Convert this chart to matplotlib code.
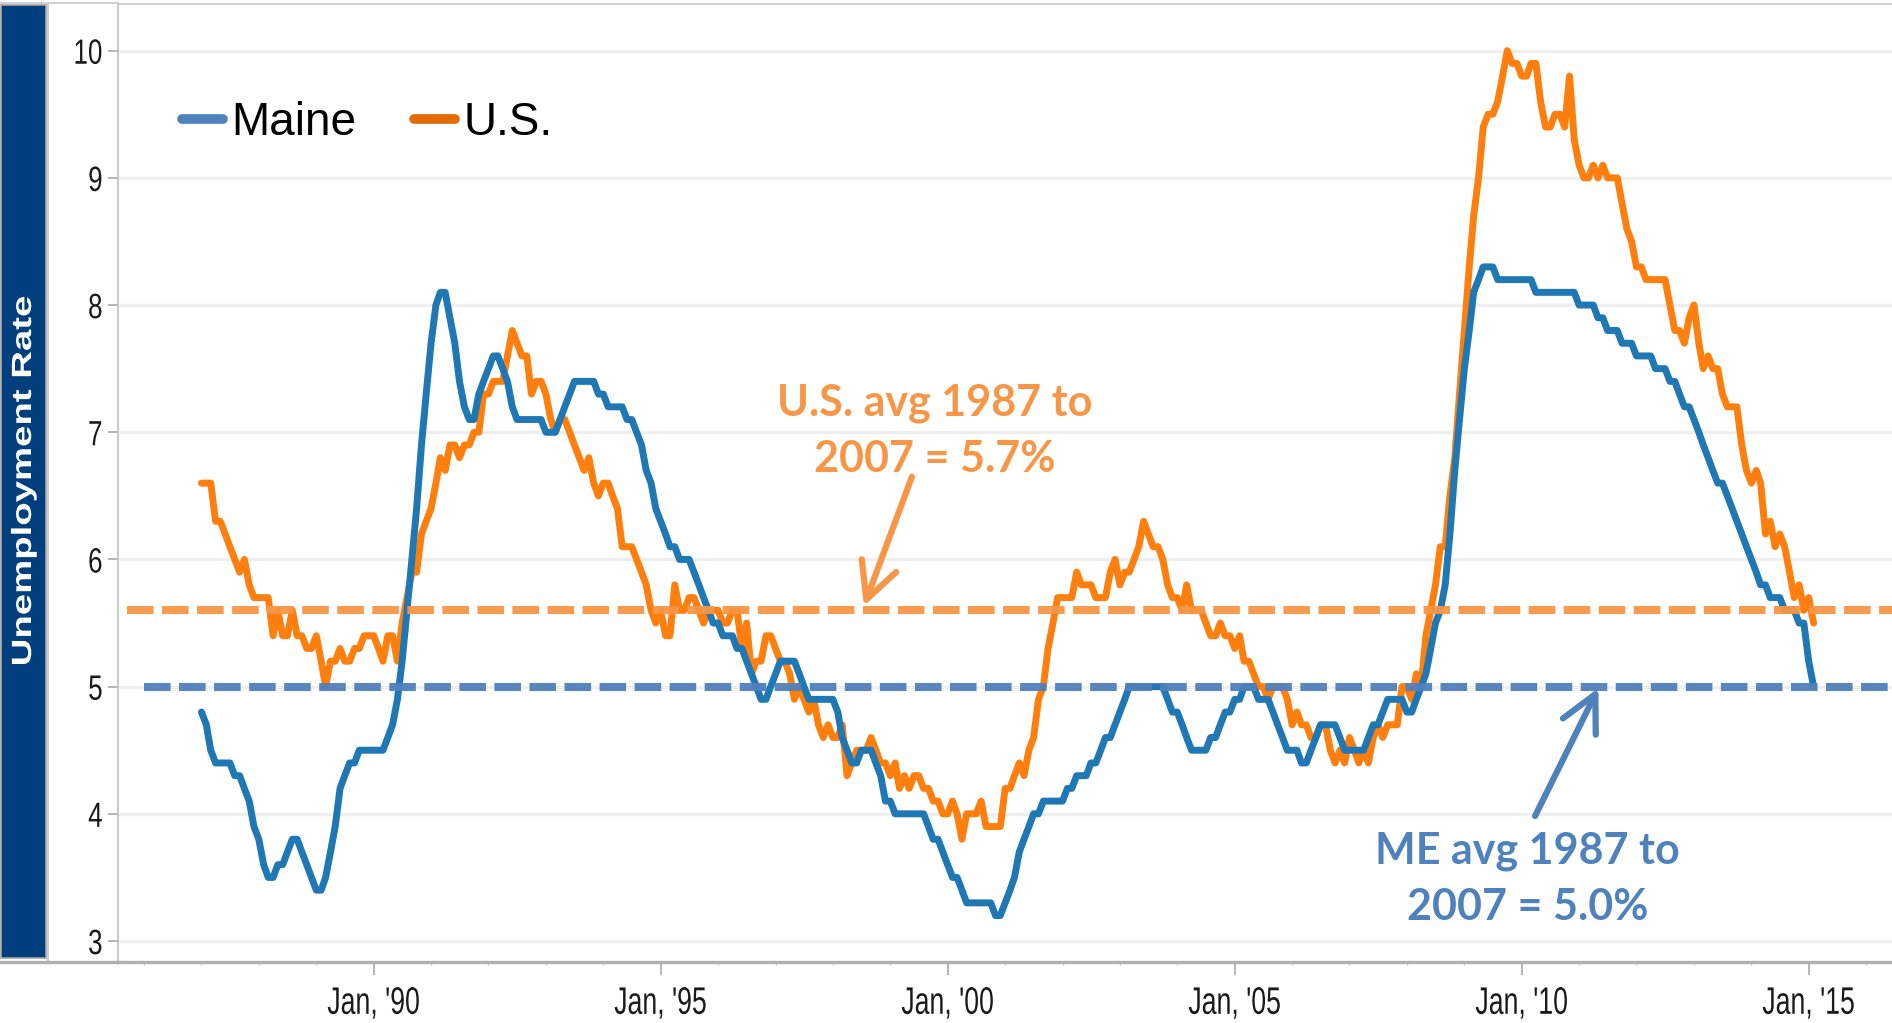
import matplotlib
matplotlib.use('Agg')
import matplotlib.pyplot as plt
import matplotlib.dates as mdates
from matplotlib.lines import Line2D
from matplotlib.patches import Rectangle
from matplotlib.patheffects import AbstractPathEffect
from matplotlib.transforms import Affine2D
import pandas as pd

# ---------------- data (monthly, Jan 1987 - Feb 2015) ----------------
start_month = '1987-01-01'

maine_rate = [
    4.8, 4.7, 4.5, 4.4, 4.4, 4.4, 4.4, 4.3, 4.3, 4.2, 4.1, 3.9,   # 1987
    3.8, 3.6, 3.5, 3.5, 3.6, 3.6, 3.7, 3.8, 3.8, 3.7, 3.6, 3.5,   # 1988
    3.4, 3.4, 3.5, 3.7, 3.9, 4.2, 4.3, 4.4, 4.4, 4.5, 4.5, 4.5,   # 1989
    4.5, 4.5, 4.5, 4.6, 4.7, 4.9, 5.2, 5.6, 6.0, 6.4, 6.9, 7.3,   # 1990
    7.7, 8.0, 8.1, 8.1, 7.9, 7.7, 7.4, 7.2, 7.1, 7.1, 7.3, 7.4,   # 1991
    7.5, 7.6, 7.6, 7.5, 7.4, 7.2, 7.1, 7.1, 7.1, 7.1, 7.1, 7.1,   # 1992
    7.0, 7.0, 7.0, 7.1, 7.2, 7.3, 7.4, 7.4, 7.4, 7.4, 7.4, 7.3,   # 1993
    7.3, 7.2, 7.2, 7.2, 7.2, 7.1, 7.1, 7.0, 6.9, 6.7, 6.6, 6.4,   # 1994
    6.3, 6.2, 6.1, 6.1, 6.0, 6.0, 6.0, 5.9, 5.8, 5.7, 5.6, 5.5,   # 1995
    5.5, 5.4, 5.4, 5.4, 5.3, 5.3, 5.2, 5.1, 5.0, 4.9, 4.9, 5.0,   # 1996
    5.1, 5.2, 5.2, 5.2, 5.2, 5.1, 5.0, 4.9, 4.9, 4.9, 4.9, 4.9,   # 1997
    4.9, 4.8, 4.6, 4.5, 4.4, 4.4, 4.5, 4.5, 4.5, 4.4, 4.3, 4.1,   # 1998
    4.1, 4.0, 4.0, 4.0, 4.0, 4.0, 4.0, 4.0, 3.9, 3.8, 3.8, 3.7,   # 1999
    3.6, 3.5, 3.5, 3.4, 3.3, 3.3, 3.3, 3.3, 3.3, 3.3, 3.2, 3.2,   # 2000
    3.3, 3.4, 3.5, 3.7, 3.8, 3.9, 4.0, 4.0, 4.1, 4.1, 4.1, 4.1,   # 2001
    4.1, 4.2, 4.2, 4.3, 4.3, 4.3, 4.4, 4.4, 4.5, 4.6, 4.6, 4.7,   # 2002
    4.8, 4.9, 5.0, 5.0, 5.0, 5.0, 5.0, 5.0, 5.0, 5.0, 4.9, 4.8,   # 2003
    4.8, 4.7, 4.6, 4.5, 4.5, 4.5, 4.5, 4.6, 4.6, 4.7, 4.8, 4.8,   # 2004
    4.9, 4.9, 5.0, 5.0, 5.0, 4.9, 4.9, 4.9, 4.8, 4.7, 4.6, 4.5,   # 2005
    4.5, 4.5, 4.4, 4.4, 4.5, 4.6, 4.7, 4.7, 4.7, 4.7, 4.6, 4.5,   # 2006
    4.5, 4.5, 4.5, 4.5, 4.6, 4.7, 4.7, 4.8, 4.9, 4.9, 4.9, 4.9,   # 2007
    4.8, 4.8, 4.9, 5.0, 5.1, 5.3, 5.5, 5.6, 5.8, 6.2, 6.7, 7.1,   # 2008
    7.5, 7.8, 8.1, 8.2, 8.3, 8.3, 8.3, 8.2, 8.2, 8.2, 8.2, 8.2,   # 2009
    8.2, 8.2, 8.2, 8.1, 8.1, 8.1, 8.1, 8.1, 8.1, 8.1, 8.1, 8.1,   # 2010
    8.0, 8.0, 8.0, 8.0, 7.9, 7.9, 7.8, 7.8, 7.8, 7.7, 7.7, 7.7,   # 2011
    7.6, 7.6, 7.6, 7.6, 7.5, 7.5, 7.5, 7.4, 7.4, 7.3, 7.2, 7.2,   # 2012
    7.1, 7.0, 6.9, 6.8, 6.7, 6.6, 6.6, 6.5, 6.4, 6.3, 6.2, 6.1,   # 2013
    6.0, 5.9, 5.8, 5.8, 5.7, 5.7, 5.7, 5.6, 5.6, 5.6, 5.5, 5.5,   # 2014
    5.2, 5.0,                                                     # 2015
]

us_rate = [
    6.6, 6.6, 6.6, 6.3, 6.3, 6.2, 6.1, 6.0, 5.9, 6.0, 5.8, 5.7,   # 1987
    5.7, 5.7, 5.7, 5.4, 5.6, 5.4, 5.4, 5.6, 5.4, 5.4, 5.3, 5.3,   # 1988
    5.4, 5.2, 5.0, 5.2, 5.2, 5.3, 5.2, 5.2, 5.3, 5.3, 5.4, 5.4,   # 1989
    5.4, 5.3, 5.2, 5.4, 5.4, 5.2, 5.5, 5.7, 5.9, 5.9, 6.2, 6.3,   # 1990
    6.4, 6.6, 6.8, 6.7, 6.9, 6.9, 6.8, 6.9, 6.9, 7.0, 7.0, 7.3,   # 1991
    7.3, 7.4, 7.4, 7.4, 7.6, 7.8, 7.7, 7.6, 7.6, 7.3, 7.4, 7.4,   # 1992
    7.3, 7.1, 7.0, 7.1, 7.1, 7.0, 6.9, 6.8, 6.7, 6.8, 6.6, 6.5,   # 1993
    6.6, 6.6, 6.5, 6.4, 6.1, 6.1, 6.1, 6.0, 5.9, 5.8, 5.6, 5.5,   # 1994
    5.6, 5.4, 5.4, 5.8, 5.6, 5.6, 5.7, 5.7, 5.6, 5.5, 5.6, 5.6,   # 1995
    5.6, 5.5, 5.5, 5.6, 5.6, 5.3, 5.5, 5.1, 5.2, 5.2, 5.4, 5.4,   # 1996
    5.3, 5.2, 5.2, 5.1, 4.9, 5.0, 4.9, 4.8, 4.9, 4.7, 4.6, 4.7,   # 1997
    4.6, 4.6, 4.7, 4.3, 4.4, 4.5, 4.5, 4.5, 4.6, 4.5, 4.4, 4.4,   # 1998
    4.3, 4.4, 4.2, 4.3, 4.2, 4.3, 4.3, 4.2, 4.2, 4.1, 4.1, 4.0,   # 1999
    4.0, 4.1, 4.0, 3.8, 4.0, 4.0, 4.0, 4.1, 3.9, 3.9, 3.9, 3.9,   # 2000
    4.2, 4.2, 4.3, 4.4, 4.3, 4.5, 4.6, 4.9, 5.0, 5.3, 5.5, 5.7,   # 2001
    5.7, 5.7, 5.7, 5.9, 5.8, 5.8, 5.8, 5.7, 5.7, 5.7, 5.9, 6.0,   # 2002
    5.8, 5.9, 5.9, 6.0, 6.1, 6.3, 6.2, 6.1, 6.1, 6.0, 5.8, 5.7,   # 2003
    5.7, 5.6, 5.8, 5.6, 5.6, 5.6, 5.5, 5.4, 5.4, 5.5, 5.4, 5.4,   # 2004
    5.3, 5.4, 5.2, 5.2, 5.1, 5.0, 5.0, 4.9, 5.0, 5.0, 5.0, 4.9,   # 2005
    4.7, 4.8, 4.7, 4.7, 4.6, 4.6, 4.7, 4.7, 4.5, 4.4, 4.5, 4.4,   # 2006
    4.6, 4.5, 4.4, 4.5, 4.4, 4.6, 4.7, 4.6, 4.7, 4.7, 4.7, 5.0,   # 2007
    5.0, 4.9, 5.1, 5.0, 5.4, 5.6, 5.8, 6.1, 6.1, 6.5, 6.8, 7.3,   # 2008
    7.8, 8.3, 8.7, 9.0, 9.4, 9.5, 9.5, 9.6, 9.8, 10.0, 9.9, 9.9,  # 2009
    9.8, 9.8, 9.9, 9.9, 9.6, 9.4, 9.4, 9.5, 9.5, 9.4, 9.8, 9.3,   # 2010
    9.1, 9.0, 9.0, 9.1, 9.0, 9.1, 9.0, 9.0, 9.0, 8.8, 8.6, 8.5,   # 2011
    8.3, 8.3, 8.2, 8.2, 8.2, 8.2, 8.2, 8.0, 7.8, 7.8, 7.7, 7.9,   # 2012
    8.0, 7.7, 7.5, 7.6, 7.5, 7.5, 7.3, 7.2, 7.2, 7.2, 6.9, 6.7,   # 2013
    6.6, 6.7, 6.6, 6.2, 6.3, 6.1, 6.2, 6.1, 5.9, 5.7, 5.8, 5.6,   # 2014
    5.7, 5.5,                                                     # 2015
]

us_avg_line = 5.6
me_avg_line = 5.0
series_labels = ['Maine', 'U.S.']
y_ticks = [3, 4, 5, 6, 7, 8, 9, 10]
x_major_years = [1990, 1995, 2000, 2005, 2010, 2015]
us_note = 'U.S. avg 1987 to\n2007 = 5.7%'
me_note = 'ME avg 1987 to\n2007 = 5.0%'
y_title = 'Unemployment Rate'

dates = pd.date_range(start_month, periods=len(maine_rate), freq='MS')


# ---------------- helpers ----------------
class Stretch(AbstractPathEffect):
    """Scale rendered text anisotropically (narrow/tall glyphs like the original)."""
    def __init__(self, sx=1.0, sy=1.0, anchor='center'):
        super().__init__()
        self.sx, self.sy, self.anchor = sx, sy, anchor

    def draw_path(self, renderer, gc, tpath, affine, rgbFace=None):
        ext = tpath.get_extents(affine)
        cx = ext.x1 if self.anchor == 'right' else (ext.x0 + ext.x1) / 2
        cy = (ext.y0 + ext.y1) / 2
        t = affine + Affine2D().translate(-cx, -cy).scale(self.sx, self.sy).translate(cx, cy)
        renderer.draw_path(gc, tpath, t, rgbFace)


# ---------------- styling ----------------
C_MAINE = '#1f77b4'
C_US = '#ff7f0e'
C_US_AVG = '#f79646'
C_ME_AVG = '#4f81bd'
C_LEG_MAINE = '#4f81bd'
C_LEG_US = '#e36c09'
C_GRAY = '#a8a8a8'
TICK_FONT = ['Liberation Sans', 'DejaVu Sans']

W, H = 1892, 1023
fig = plt.figure(figsize=(W / 100, H / 100), dpi=100)
ax_left, ax_bottom, ax_top = 118, 962, 4
ax = fig.add_axes([ax_left / W, (H - ax_bottom) / H, (W - ax_left) / W, (ax_bottom - ax_top) / H])

ax.plot(dates, us_rate, color=C_US, lw=5.0, solid_joinstyle='round', solid_capstyle='round', zorder=3)
ax.plot(dates, maine_rate, color=C_MAINE, lw=5.0, solid_joinstyle='round', solid_capstyle='round', zorder=3.5)

ax.axhline(us_avg_line, xmin=0.005, xmax=1, color=C_US_AVG, lw=5.8, dashes=(3.3, 1.05), zorder=4, alpha=0.95)
ax.axhline(me_avg_line, xmin=0.0146, xmax=1, color=C_ME_AVG, lw=5.8, dashes=(3.3, 1.05), zorder=4, alpha=0.95)

ax.set_ylim(2.835, 10.367)
ax.set_xlim(pd.Timestamp('1985-07-19'), pd.Timestamp('2016-06-14'))

ax.set_yticks(y_ticks)
ax.set_yticklabels([str(t) for t in y_ticks], family=TICK_FONT, fontsize=22, color='#1a1a1a')
for lbl in ax.get_yticklabels():
    lbl.set_path_effects([Stretch(sx=0.85, sy=1.15, anchor='right')])
ax.tick_params(axis='y', length=7, width=1.2, color=C_GRAY, pad=4)

ax.set_xticks([pd.Timestamp(f'{y}-01-01') for y in x_major_years])
ax.xaxis.set_major_formatter(mdates.DateFormatter("%b, '%y"))
ax.xaxis.set_minor_locator(mdates.YearLocator(1))
for lbl in ax.get_xticklabels():
    lbl.set_family(TICK_FONT)
    lbl.set_fontsize(24)
    lbl.set_color('#1a1a1a')
    lbl.set_path_effects([Stretch(sx=0.8, sy=1.15)])
ax.tick_params(axis='x', which='major', length=9, width=1.2, color=C_GRAY, pad=10)
ax.tick_params(axis='x', which='minor', length=2.5, width=1.0, color='#c8c8c8')

ax.grid(axis='y', color='#efefef', lw=2.4)
ax.set_axisbelow(True)

ax.spines['right'].set_visible(False)
ax.spines['bottom'].set_color('#b0b0b0')
ax.spines['bottom'].set_linewidth(2.4)
ax.spines['left'].set_color('#c0c0c0')
ax.spines['left'].set_linewidth(1.2)
ax.spines['top'].set_color('#c8c8c8')
ax.spines['top'].set_linewidth(1.2)

# legend
handles = [Line2D([], [], color=C_LEG_MAINE, lw=7, solid_capstyle='round'),
           Line2D([], [], color=C_LEG_US, lw=7, solid_capstyle='round')]
ax.legend(handles, series_labels, loc='center left', bbox_to_anchor=(0.036, 0.876), ncol=2,
          frameon=False, prop=dict(family='Liberation Sans', size=33),
          handlelength=0.9, handletextpad=0.18, columnspacing=1.25,
          borderaxespad=0, borderpad=0)

# annotations
ax.text(0.4605, 0.5545, us_note, transform=ax.transAxes, ha='center', va='center',
        color=C_US_AVG, fontsize=31, fontweight='bold', family=['Lato', 'DejaVu Sans'], linespacing=1.48)
ax.text(0.7946, 0.0865, me_note, transform=ax.transAxes, ha='center', va='center',
        color=C_ME_AVG, fontsize=31, fontweight='bold', family=['Lato', 'DejaVu Sans'], linespacing=1.48)

ax.annotate('', xy=(0.4205, 0.3716), xytext=(0.4475, 0.5063), xycoords='axes fraction',
            arrowprops=dict(arrowstyle='->,head_length=0.65,head_width=0.33', color=C_US_AVG,
                            lw=4.5, mutation_scale=40, shrinkA=0, shrinkB=0,
                            capstyle='round', joinstyle='round'), zorder=5)
ax.annotate('', xy=(0.8345, 0.286), xytext=(0.7988, 0.1524), xycoords='axes fraction',
            arrowprops=dict(arrowstyle='->,head_length=0.65,head_width=0.33', color=C_ME_AVG,
                            lw=4.5, mutation_scale=40, shrinkA=0, shrinkB=0,
                            capstyle='round', joinstyle='round'), zorder=5)

# left title banner
fig.add_artist(Rectangle((1 / W, (H - 958) / H), 45 / W, (958 - 5) / H, transform=fig.transFigure,
                         facecolor='#003f7d', edgecolor='#a6a6a6', lw=1.2))
fig.add_artist(Line2D([48 / W, 48 / W], [(H - 962) / H, (H - 4) / H], transform=fig.transFigure,
                      color='#c4c4c4', lw=1.2))
fig.add_artist(Line2D([0, ax_left / W], [(H - ax_bottom) / H] * 2, transform=fig.transFigure,
                      color='#b0b0b0', lw=2.4))
fig.add_artist(Line2D([0, ax_left / W], [(H - 3) / H] * 2, transform=fig.transFigure,
                      color='#c8c8c8', lw=1.2))
fig.text(24 / W, 1 - 481 / H, y_title, rotation=90, color='white', fontweight='bold',
         fontsize=20, family='Liberation Sans', ha='center', va='center',
         path_effects=[Stretch(sy=1.38)])

fig.savefig('out.png', dpi=100, facecolor='white')
